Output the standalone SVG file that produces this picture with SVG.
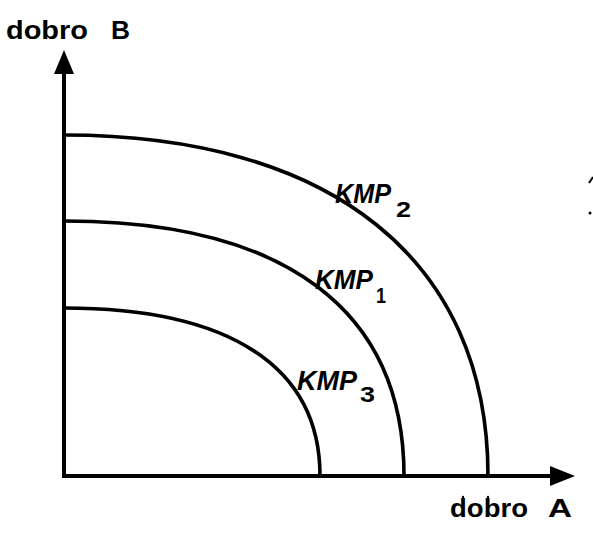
<svg xmlns="http://www.w3.org/2000/svg" width="593" height="545" viewBox="0 0 593 545">
<style>
.ax{stroke:#000;stroke-width:4;fill:none}
.cv{stroke:#000;stroke-width:3.6;fill:none}
.lbl{font-family:"Liberation Sans",Arial,sans-serif;font-size:26px;font-weight:bold;fill:#000}
.kmp{font-family:"Liberation Sans",Arial,sans-serif;font-style:italic;font-weight:bold;font-size:27px;fill:#000}
.sub{font-family:"Liberation Sans",Arial,sans-serif;font-weight:bold;font-size:22px;fill:#000}
</style>
<rect width="593" height="545" fill="#fff"/>
<g id="axes">
<line class="ax" x1="64" y1="478" x2="64" y2="68"/>
<polygon points="64,50 54,74 74,74" fill="#000"/>
<line class="ax" x1="62" y1="476" x2="556" y2="476"/>
<polygon points="575,476 550,466 550,486" fill="#000"/>
</g>
<g id="curves">
<path id="kmp2" class="cv" d="M64,135 C331,135 488,260 488,476"/>
<path id="kmp1" class="cv" d="M64,221 C285,221 404,310 404,476"/>
<path id="kmp3" class="cv" d="M64,308 C230,308 320,367 320,476"/>
</g>
<g id="labels">
<text class="lbl" x="6" y="39" textLength="82" lengthAdjust="spacingAndGlyphs">dobro</text>
<text class="lbl" x="111" y="39" textLength="19" lengthAdjust="spacingAndGlyphs">B</text>
<text class="lbl" x="450" y="517" textLength="78" lengthAdjust="spacingAndGlyphs">dobro</text>
<text class="lbl" x="548" y="517" textLength="24" lengthAdjust="spacingAndGlyphs">A</text>
<text class="kmp" x="335" y="203" textLength="56" lengthAdjust="spacingAndGlyphs">KMP</text>
<text class="sub" x="396" y="217" textLength="15" lengthAdjust="spacingAndGlyphs">2</text>
<text class="kmp" x="315" y="289" textLength="58" lengthAdjust="spacingAndGlyphs">KMP</text>
<text class="sub" x="376" y="303" textLength="10" lengthAdjust="spacingAndGlyphs">1</text>
<text class="kmp" x="297" y="390" textLength="60" lengthAdjust="spacingAndGlyphs">KMP</text>
<text class="sub" x="360" y="402" textLength="15" lengthAdjust="spacingAndGlyphs">3</text>
</g>
<g id="specks" fill="#000">
<path d="M589,183 L593,177" stroke="#000" stroke-width="2"/>
<circle cx="590" cy="213" r="1.5"/>
<circle cx="463" cy="497" r="1.2"/>
<circle cx="488" cy="497" r="1.2"/>
</g>
</svg>
